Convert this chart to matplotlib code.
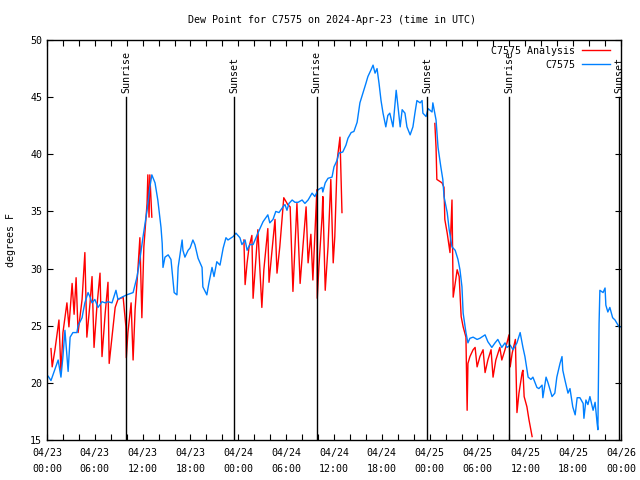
import numpy as np
import pandas as pd
import matplotlib
matplotlib.use("Agg")
import matplotlib.pyplot as plt
import matplotlib.dates as mdates

plt.rcParams["font.family"] = ["DejaVu Sans Mono"]
FS = 7.2

START = pd.Timestamp("2024-04-23 00:00")

# C7575 observations: hours since 04/23 00:00 UTC, dew point (F)
obs_hours = [0.0, 0.13, 0.5, 0.75, 1.4, 1.75, 2.0, 2.25, 2.65, 2.9, 3.25, 3.75, 3.9, 4.4,
             4.5, 4.75, 5.15, 5.4, 5.65, 6.0, 6.4, 6.9, 7.3, 7.65, 8.15, 8.65, 8.9, 9.4,
             10.0, 10.8, 11.3, 11.65, 12.05, 12.55, 12.9, 13.15, 13.55, 13.9, 14.3, 14.45,
             14.55, 14.8, 15.2, 15.55, 15.95, 16.3, 16.45, 16.95, 17.05, 17.3, 17.7, 17.95,
             18.3, 18.55, 18.95, 19.45, 19.55, 20.05, 20.3, 20.7, 20.95, 21.3, 21.7, 22.1,
             22.45, 22.7, 23.35, 23.7, 24.2, 24.45, 24.85, 25.1, 25.45, 25.85, 26.45, 27.1,
             27.7, 27.95, 28.35, 28.7, 29.1, 29.6, 29.85, 30.1, 30.35, 30.75, 31.1, 31.5,
             32.0, 32.35, 32.75, 33.25, 33.6, 34.0, 34.5, 34.6, 34.9, 35.25, 35.75, 36.0,
             36.4, 36.6, 37.1, 37.5, 37.75, 38.15, 38.5, 38.9, 39.25, 39.65, 40.0, 40.25,
             40.65, 40.9, 41.15, 41.4, 41.65, 41.9, 42.15, 42.5, 42.75, 43.0, 43.4, 43.8,
             43.9, 44.3, 44.55, 44.9, 45.15, 45.55, 45.9, 46.15, 46.4, 46.8, 47.05, 47.15,
             47.55, 47.8, 48.3, 48.4, 48.8, 49.05, 49.4, 49.65, 49.8, 50.2, 50.45, 50.8,
             51.2, 51.55, 51.8, 52.05, 52.2, 52.55, 52.8, 53.05, 53.45, 53.95, 54.3, 54.95,
             55.3, 55.8, 56.2, 56.55, 57.05, 57.45, 57.7, 58.1, 58.45, 58.95, 59.35, 59.7,
             59.95, 60.35, 60.7, 60.95, 61.45, 61.7, 62.1, 62.2, 62.6, 62.85, 63.35, 63.7,
             63.95, 64.35, 64.6, 64.7, 64.95, 65.35, 65.6, 65.95, 66.25, 66.5, 66.85, 67.25,
             67.35, 67.6, 67.85, 68.1, 68.5, 68.75, 69.0, 69.1, 69.15, 69.25, 69.35, 69.75,
             70.0, 70.1, 70.35, 70.6, 70.95, 71.25, 71.5, 71.75, 71.9]
obs_dewpt = [20.5, 20.6, 20.2, 20.7, 22.0, 20.5, 22.3, 24.6, 21.0, 24.0, 24.4, 24.4, 25.0, 25.7,
             26.1, 27.0, 27.9, 27.5, 27.0, 27.3, 26.6, 27.1, 27.0, 27.1, 27.0, 28.1, 27.3, 27.5,
             27.7, 27.9, 29.3, 30.8, 32.8, 35.1, 37.1, 38.2, 37.5, 36.0, 33.6, 32.2,
             30.1, 31.0, 31.2, 30.8, 27.9, 27.7, 30.1, 32.5, 31.6, 31.0, 31.6, 31.8,
             32.5, 32.1, 30.9, 30.1, 28.4, 27.7, 28.7, 30.1, 29.3, 30.6, 30.3, 31.8,
             32.7, 32.5, 32.8, 33.1, 32.7, 32.1, 32.5, 31.6, 32.1, 32.1, 33.1, 34.1,
             34.7, 34.0, 34.3, 35.0, 34.9, 35.4, 35.6, 35.1, 35.7, 36.0, 35.8, 35.8,
             36.0, 35.7, 36.0, 36.6, 36.3, 36.9, 37.1, 36.7, 37.5, 37.9, 38.0, 38.9,
             39.5, 40.1, 40.2, 40.8, 41.4, 41.9, 42.0, 42.8, 44.5, 45.4, 46.2, 46.8,
             47.4, 47.8, 47.1, 47.5, 46.2, 44.7, 43.6, 42.4, 43.4, 43.6, 42.4, 45.6,
             45.0, 42.4, 43.9, 43.6, 42.4, 41.7, 42.4, 43.6, 44.7, 44.5, 44.7, 43.6,
             43.3, 44.0, 43.7, 44.5, 43.0, 40.6, 38.9, 37.8, 36.3, 34.9, 33.4, 31.9,
             31.6, 30.8, 29.9, 28.4, 26.1, 24.4, 23.5, 23.9, 24.0, 23.8, 23.9, 24.2,
             23.6, 23.1, 23.5, 23.8, 23.1, 23.5, 23.1, 23.3, 22.9, 23.5, 24.4, 23.1,
             22.3, 20.5, 20.3, 20.5, 19.6, 19.5, 19.8, 18.7, 20.5, 20.0, 18.8, 19.1,
             20.5, 21.7, 22.3, 21.1, 20.3, 19.1, 19.5, 17.9, 17.2, 18.7, 18.7, 18.2,
             16.9, 18.5, 18.1, 18.8, 17.6, 18.3, 16.5, 15.9, 18.8, 25.2, 28.1, 27.9,
             28.3, 26.8, 26.2, 26.6, 25.7, 25.5, 25.2, 24.9, 24.9]

# C7575 Analysis (three pieces, gaps between them)
ana1_hours = [0.5, 0.65, 1.0, 1.5, 1.75, 2.0, 2.5, 2.75, 3.15, 3.4, 3.65, 3.9, 4.4, 4.75,
              5.0, 5.4, 5.65, 5.9, 6.25, 6.65, 6.9, 7.3, 7.65, 7.8, 8.15, 8.55, 8.9, 9.55,
              9.9, 9.95, 10.15, 10.55, 10.8, 11.05, 11.4, 11.65, 11.9, 12.15, 12.55, 12.65,
              12.8, 12.9, 13.15]
ana1_dewpt = [23.0, 21.4, 22.9, 25.5, 20.9, 24.4, 27.0, 24.9, 28.7, 26.0, 29.2, 24.4, 27.3, 31.4,
              24.0, 27.0, 29.3, 23.1, 26.6, 29.6, 22.3, 26.1, 28.8, 21.7, 24.0, 26.6, 27.3, 27.5,
              24.9, 22.2, 24.4, 27.0, 22.0, 26.4, 29.9, 32.7, 25.7, 31.9, 35.7, 38.2,
              34.5, 38.2, 34.5]
ana2_hours = [24.7, 24.85, 25.1, 25.35, 25.7, 25.85, 26.2, 26.45, 26.95, 27.2, 27.7, 27.85,
              28.2, 28.6, 28.85, 29.2, 29.7, 30.2, 30.5, 30.85, 31.35, 31.75, 32.1, 32.5,
              32.75, 33.1, 33.35, 33.85, 33.9, 34.1, 34.5, 34.6, 34.9, 35.25, 35.6, 35.9,
              36.1, 36.4, 36.75, 37.0]
ana2_dewpt = [32.5, 28.6, 30.5, 31.9, 32.9, 27.4, 30.8, 33.4, 26.6, 29.9, 33.5, 28.8,
              31.4, 34.3, 29.6, 31.9, 36.2, 35.6, 35.4, 28.0, 35.7, 28.7, 31.9, 35.4,
              30.5, 33.0, 29.0, 36.9, 27.4, 30.1, 34.5, 36.3, 28.1, 31.9, 37.8, 30.5,
              32.8, 39.5, 41.5, 34.9]
ana3_hours = [48.65, 48.8, 48.9, 49.55, 49.8, 49.9, 50.2, 50.55, 50.8, 50.95, 51.2, 51.45,
              51.7, 51.95, 52.2, 52.55, 52.7, 52.8, 53.05, 53.45, 53.7, 53.95, 54.3, 54.7,
              54.95, 55.3, 55.7, 55.95, 56.3, 56.8, 57.05, 57.45, 57.7, 57.95, 58.1, 58.35,
              58.75, 58.95, 59.2, 59.6, 59.7, 59.85, 60.2, 60.45, 60.85]
ana3_dewpt = [42.7, 40.6, 37.8, 37.5, 37.1, 34.3, 33.1, 31.4, 36.0, 27.5, 28.7, 29.9,
              29.3, 25.8, 24.9, 24.0, 17.6, 21.7, 22.3, 22.9, 23.1, 21.4, 22.3, 22.9,
              20.9, 22.0, 22.9, 20.5, 22.0, 23.1, 22.0, 22.9, 23.5, 24.2, 21.4, 22.6,
              23.8, 17.4, 19.1, 20.9, 21.1, 18.8, 17.9, 16.8, 15.3]

sun_hours = [9.9, 23.45, 33.85, 47.65, 57.95, 71.75]
sun_labels = ["Sunrise", "Sunset", "Sunrise", "Sunset", "Sunrise", "Sunset"]


def to_time(hours):
    return START + pd.to_timedelta(np.asarray(hours, dtype=float), unit="h")


fig = plt.figure(figsize=(6.4, 4.8), dpi=100)
ax = fig.add_axes([47 / 640, 40 / 480, 574 / 640, 400 / 480])

first = True
for hrs, vals in [(ana1_hours, ana1_dewpt), (ana2_hours, ana2_dewpt), (ana3_hours, ana3_dewpt)]:
    ax.plot(to_time(hrs), vals, color="#ff0000", linewidth=1.0,
            label="C7575 Analysis" if first else None)
    first = False
ax.plot(to_time(obs_hours), obs_dewpt, color="#0080ff", linewidth=1.0, label="C7575")

for h, lab in zip(sun_hours, sun_labels):
    t = START + pd.Timedelta(hours=h)
    ax.plot([t, t], [15, 45.0], color="black", linewidth=1)
    ax.text(t, 45.4, lab, rotation=90, ha="center", va="bottom", fontsize=FS)

ax.set_xlim(START, START + pd.Timedelta(hours=72))
ax.set_ylim(15, 50)
ax.set_yticks(range(15, 51, 5))
ax.xaxis.set_major_locator(mdates.HourLocator(byhour=range(0, 24, 6)))
ax.xaxis.set_minor_locator(mdates.HourLocator(byhour=range(0, 24, 2)))
ax.xaxis.set_major_formatter(mdates.DateFormatter("%m/%d\n%H:%M"))
ax.tick_params(which="both", direction="in", top=True, right=True, length=4,
               labelsize=FS, width=0.8)
ax.tick_params(axis="x", pad=6)
plt.setp(ax.get_xticklabels(), linespacing=1.75)
for s in ax.spines.values():
    s.set_linewidth(1)

ax.set_ylabel("degrees F", fontsize=FS, labelpad=10)
fig.text(332 / 640, 1 - 20 / 480, "Dew Point for C7575 on 2024-Apr-23 (time in UTC)",
         ha="center", va="center", fontsize=FS)

ax.legend(loc="upper right", bbox_to_anchor=(0.988, 0.996), frameon=False, markerfirst=False,
          fontsize=FS, handlelength=2.8, handletextpad=0.7, borderaxespad=0.0,
          labelspacing=0.4)

fig.savefig("out.png", dpi=100)
